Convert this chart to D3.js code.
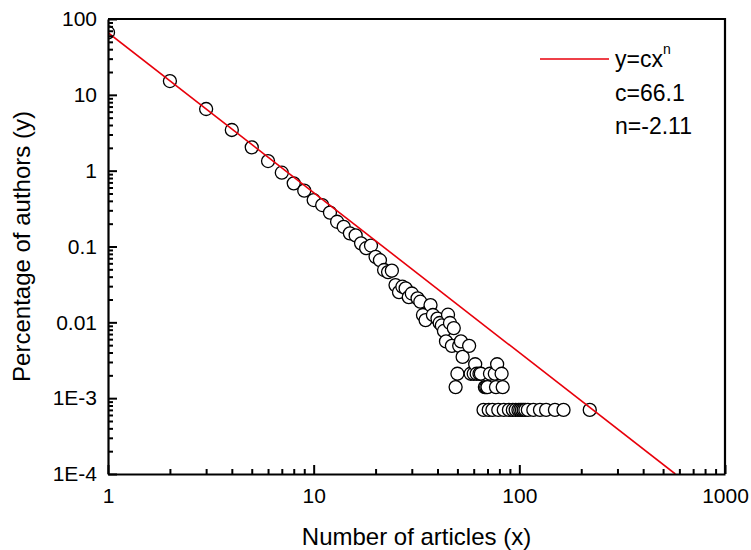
<!DOCTYPE html>
<html>
<head>
<meta charset="utf-8">
<script src="https://cdn.jsdelivr.net/npm/d3@7"></script>
<style>
  body { margin: 0; background: #fff; }
  svg text { font-family: "Liberation Sans", Arial, sans-serif; fill: #000; }
</style>
</head>
<body>
<div id="chart"></div>
<script>
const svgWidth = 751;
const svgHeight = 550;

const margin = { top: 19, right: 26, bottom: 76, left: 108 };
const width = svgWidth - margin.left - margin.right;
const height = svgHeight - margin.top - margin.bottom;

// number of articles per author (x)
const articles = [1, 2, 3, 4, 5, 6, 7, 8, 9, 10, 11, 12, 13, 14, 15, 16, 17, 18, 19,
  20, 21, 22, 23, 24, 25, 26, 27, 28, 29, 30, 32, 33, 34, 35, 37, 38, 40, 41, 42, 43,
  44, 45, 46, 47, 48, 49, 50, 51, 52, 53, 57, 58, 60, 61, 62, 64, 65, 67, 68, 69, 70,
  71, 72, 74, 76, 77, 78, 79, 82, 83, 84, 89, 93, 96, 99, 101, 103, 105, 107, 110,
  117, 126, 135, 149, 164, 220];

// percentage of authors (y)
const percent = [66.4, 15.2, 6.5, 3.44, 2.03, 1.34, 0.94, 0.68, 0.545, 0.41, 0.352, 0.28,
  0.212, 0.182, 0.149, 0.14, 0.11, 0.095, 0.103,
  0.073, 0.066, 0.049, 0.046, 0.048, 0.031, 0.025, 0.0295, 0.028, 0.0215, 0.024,
  0.0207, 0.0187, 0.0125, 0.0107, 0.0169, 0.0125, 0.0112, 0.0098, 0.0091, 0.0077,
  0.0056, 0.0126, 0.0098, 0.0049, 0.0084, 0.0014, 0.0021, 0.0049, 0.0056, 0.0035,
  0.0049, 0.0021, 0.0021, 0.0028, 0.0021, 0.0021, 0.0021, 0.0007, 0.0014, 0.0014,
  0.0014, 0.0007, 0.0021, 0.0007, 0.0021, 0.0014, 0.0028, 0.0007, 0.0021, 0.0014,
  0.0007, 0.0007, 0.0007, 0.0007, 0.0007, 0.0007, 0.0007, 0.0007, 0.0007, 0.0007,
  0.0007, 0.0007, 0.0007, 0.0007, 0.0007, 0.0007];

// fit y = c * x^n
const fitC = 66.1;
const fitN = -2.11;

const xTicks = [1, 10, 100, 1000];
const yTicks = [100, 10, 1, 0.1, 0.01, 1e-3, 1e-4];
const yTickLabels = ["100", "10", "1", "0.1", "0.01", "1E-3", "1E-4"];

const points = articles.map((a, i) => ({ x: a, y: percent[i] }));

const svg = d3.select("#chart")
  .append("svg")
  .attr("width", svgWidth)
  .attr("height", svgHeight);

const chartGroup = svg.append("g")
  .attr("transform", `translate(${margin.left}, ${margin.top})`);

const xScale = d3.scaleLog().domain([1, 1000]).range([0, width]);
const yScale = d3.scaleLog().domain([1e-4, 100]).range([height, 0]);

// minor ticks 2..9 in every decade
function minorTicks(lo, hi) {
  const out = [];
  for (let p = lo; p < hi; p++) {
    for (let m = 2; m <= 9; m++) out.push(m * Math.pow(10, p));
  }
  return out;
}

chartGroup.append("clipPath").attr("id", "plotClip")
  .append("rect").attr("width", width).attr("height", height);

// scatter points
chartGroup.append("g")
  .attr("clip-path", "url(#plotClip)")
  .selectAll("circle")
  .data(points)
  .enter()
  .append("circle")
  .attr("cx", d => xScale(d.x))
  .attr("cy", d => yScale(d.y))
  .attr("r", 6.5)
  .attr("fill", "#fff")
  .attr("stroke", "#000")
  .attr("stroke-width", 1.3);

// fitted power law line
const xEnd = Math.pow(1e-4 / fitC, 1 / fitN);
chartGroup.append("line")
  .attr("clip-path", "url(#plotClip)")
  .attr("x1", xScale(1))
  .attr("y1", yScale(fitC))
  .attr("x2", xScale(xEnd))
  .attr("y2", yScale(fitC * Math.pow(xEnd, fitN)))
  .attr("stroke", "#e8000b")
  .attr("stroke-width", 1.6);

// minor tick axes
chartGroup.append("g")
  .attr("transform", `translate(0, ${height})`)
  .call(d3.axisBottom(xScale).tickValues(minorTicks(0, 3)).tickSize(-5).tickFormat(""))
  .call(g => g.select(".domain").remove());
chartGroup.append("g")
  .call(d3.axisLeft(yScale).tickValues(minorTicks(-4, 2)).tickSize(-5).tickFormat(""))
  .call(g => g.select(".domain").remove());

// major axes
const xAxis = chartGroup.append("g")
  .attr("transform", `translate(0, ${height})`)
  .call(d3.axisBottom(xScale).tickValues(xTicks).tickSize(-9).tickSizeOuter(0)
    .tickPadding(14).tickFormat(d3.format("d")));

const yAxis = chartGroup.append("g")
  .call(d3.axisLeft(yScale).tickValues(yTicks).tickSize(-9).tickSizeOuter(0)
    .tickPadding(11).tickFormat((d, i) => yTickLabels[i]));

chartGroup.selectAll(".tick line").attr("stroke", "#000").attr("stroke-width", 2);
[xAxis, yAxis].forEach(ax => {
  ax.select(".domain").attr("stroke", "#000").attr("stroke-width", 2.2);
  ax.selectAll("text").attr("font-size", "21px")
    .style("font-family", "'Liberation Sans', Arial, sans-serif");
});

// top and right frame
chartGroup.append("path")
  .attr("d", `M0,0H${width}V${height}`)
  .attr("fill", "none")
  .attr("stroke", "#000")
  .attr("stroke-width", 2.2);

// axis titles
svg.append("text")
  .attr("x", margin.left + width / 2)
  .attr("y", 545)
  .attr("text-anchor", "middle")
  .attr("font-size", "24px")
  .text("Number of articles (x)");

svg.append("text")
  .attr("transform", `translate(30, ${margin.top + height / 2}) rotate(-90)`)
  .attr("text-anchor", "middle")
  .attr("font-size", "24px")
  .text("Percentage of authors (y)");

// legend
const legend = svg.append("g");
legend.append("line")
  .attr("x1", 540).attr("x2", 609)
  .attr("y1", 59).attr("y2", 59)
  .attr("stroke", "#e8000b")
  .attr("stroke-width", 1.6);

const eq = legend.append("text")
  .attr("x", 615).attr("y", 67)
  .attr("font-size", "23px");
eq.append("tspan").text("y=cx");
eq.append("tspan").attr("dy", -13).attr("font-size", "14px").text("n");

legend.append("text")
  .attr("x", 615).attr("y", 101)
  .attr("font-size", "23px")
  .text(`c=${fitC}`);

legend.append("text")
  .attr("x", 615).attr("y", 134)
  .attr("font-size", "23px")
  .text(`n=${fitN}`);
</script>
</body>
</html>
